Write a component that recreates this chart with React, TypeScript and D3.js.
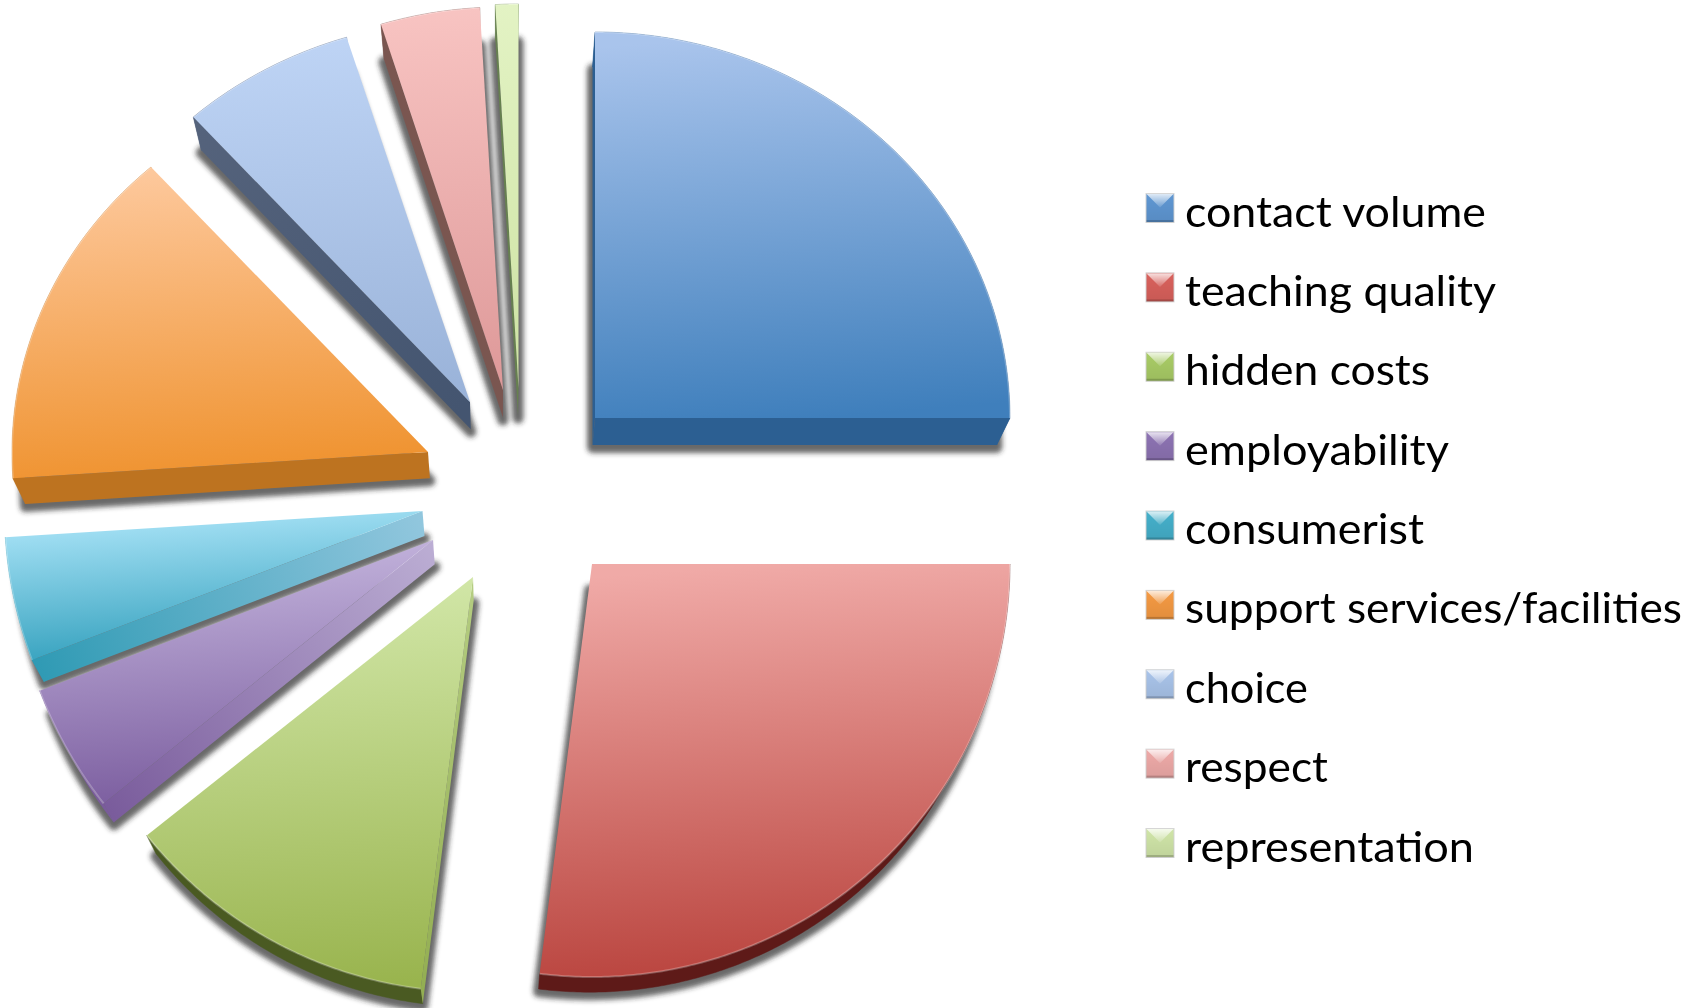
import React from "react";
import * as d3 from "d3";

// ---- data ----
const categories = [
  "contact volume",
  "teaching quality",
  "hidden costs",
  "employability",
  "consumerist",
  "support services/facilities",
  "choice",
  "respect",
  "representation",
];
const shares = [25, 27, 12.3, 4.9, 4.8, 14.4, 6.8, 3.9, 0.9];

// ---- styling ----
const faceTop = ["#a9c4ec", "#f0aaa7", "#d3e8aa", "#c5b6de", "#a7e2f6", "#fdc89c", "#bed4f5", "#f8c4c2", "#e3f3c4"];
const faceBottom = ["#3f7fbc", "#b9433d", "#99b44e", "#7a5c9e", "#2f9ebb", "#ef922e", "#9ab3d9", "#de9999", "#cde2a3"];
const sideApex = ["#2c5f92", "#5e1a18", "#b5cd82", "#bcaed4", "#92c7de", "#bd7320", "#445570", "#7a5650", "#66804f"];
const sideOuter = ["#2c5f92", "#5e1a18", "#93ae52", "#7a5c9c", "#2f9ab4", "#bd7320", "#55637c", "#7a5650", "#66804f"];
const sideArc = ["#2c5f92", "#5e1a18", "#4a5a22", "#7a5c9c", "#2f9ab4", "#bd7320", "#55637c", "#7a5650", "#66804f"];
const swatchBase = ["#5f97d3", "#d9615c", "#a9cc66", "#8d73b3", "#45b0cb", "#f59a43", "#a9c4ea", "#eeaaa8", "#d0e5a8"];

// ---- per-slice layout (each wedge is pulled out and sized by the perspective) ----
const apexX = [595, 592, 473, 433, 422.5, 428, 470, 503, 518.5];
const apexY = [418, 564, 577, 540, 511, 452, 402, 390, 388];
const radX = [415, 418, 417, 421, 418, 416, 415.5, 411, 411];
const radYUp = [386, 418, 417, 417, 418, 382, 382, 383, 384];
const radYDown = [386, 413, 415, 423, 418, 420, 380, 383, 384];

const legendWidths = [301, 311, 245, 264, 239, 497, 123, 143, 289];
const legendX = d3.scaleLinear().domain([0, 1]).range([1146, 1174]);
const legendY = d3.scaleLinear().domain([0, 8]).range([193.5, 828.5]);

const W = 1686;
const H = 1008;
const kx = 0.026, vpx = 500, ky = 0.021, vpy = 1700;

type P = [number, number];
const lower = ([x, y]: P): P => [x + kx * (vpx - x), y + ky * (vpy - y)];
const line = d3.line<P>();
const closed = (pts: P[]) => (line(pts) as string) + "Z";

const arcs = d3.pie<number>().sort(null)(shares);

const slices = arcs.map((a, i) => {
  const steps = Math.max(4, Math.ceil(((a.endAngle - a.startAngle) * 180) / Math.PI) * 2);
  const angle = d3.scaleLinear().domain([0, steps]).range([a.startAngle, a.endAngle]);
  const rim: P[] = d3.range(steps + 1).map((s) => {
    const t = angle(s);
    const c = Math.cos(t);
    return [apexX[i] + radX[i] * Math.sin(t), apexY[i] - (c > 0 ? radYUp[i] : radYDown[i]) * c] as P;
  });
  const apex: P = [apexX[i], apexY[i]];
  const top: P[] = [apex, ...rim];
  const bottom = top.map(lower);
  const centroid = d3.polygonCentroid(top);
  const edges: { a: P; b: P; key: string }[] = [
    { a: apex, b: rim[0], key: "s" },
    { a: apex, b: rim[rim.length - 1], key: "e" },
  ];
  const visible = edges.filter(({ a: p, b: q }) => {
    const nx = q[1] - p[1];
    const ny = -(q[0] - p[0]);
    const mid: P = [(p[0] + q[0]) / 2, (p[1] + q[1]) / 2];
    const low = lower(mid);
    const sign = nx * (mid[0] - centroid[0]) + ny * (mid[1] - centroid[1]) > 0 ? 1 : -1;
    return sign * (nx * (low[0] - mid[0]) + ny * (low[1] - mid[1])) > 0;
  });
  return { i, apex, rim, top, bottom, visible };
});

export default function App() {
  return (
    <svg
      width={W}
      height={H}
      viewBox={`0 0 ${W} ${H}`}
      style={{ position: "fixed", left: 0, top: 0, background: "#fff" }}
    >
      <defs>
        <filter id="soft" x="-20%" y="-20%" width="140%" height="140%">
          <feGaussianBlur stdDeviation="2.8" />
        </filter>
        <linearGradient id="wedge" x1="0" y1="0" x2="0" y2="1">
          <stop offset="0" stopColor="#fff" stopOpacity="0.8" />
          <stop offset="1" stopColor="#fff" stopOpacity="0.1" />
        </linearGradient>
        <linearGradient id="swatchShade" x1="0" y1="0" x2="0" y2="1">
          <stop offset="0" stopColor="#000" stopOpacity="0" />
          <stop offset="1" stopColor="#000" stopOpacity="0.08" />
        </linearGradient>
        {slices.map((s) => {
          const ys = d3.extent(s.top, (p) => p[1]) as [number, number];
          const xs = d3.extent(s.top, (p) => p[0]) as [number, number];
          const mx = (xs[0] + xs[1]) / 2;
          const tilt = (ys[1] - ys[0]) * 0.04;
          return (
            <linearGradient
              key={s.i}
              id={`face${s.i}`}
              gradientUnits="userSpaceOnUse"
              x1={mx - tilt}
              y1={ys[0]}
              x2={mx + tilt}
              y2={ys[1]}
            >
              <stop offset="0" stopColor={faceTop[s.i]} />
              <stop offset="1" stopColor={faceBottom[s.i]} />
            </linearGradient>
          );
        })}
        {slices.flatMap((s) =>
          s.visible.map((e) => (
            <linearGradient
              key={s.i + e.key}
              id={`side${s.i}${e.key}`}
              gradientUnits="userSpaceOnUse"
              x1={e.a[0]}
              y1={e.a[1]}
              x2={e.b[0]}
              y2={e.b[1]}
            >
              <stop offset="0" stopColor={sideApex[s.i]} />
              <stop offset="1" stopColor={sideOuter[s.i]} />
            </linearGradient>
          ))
        )}
      </defs>

      {/* soft shadow cast by the underside of every wedge */}
      <g filter="url(#soft)" transform="translate(0,2.5)">
        {slices.map((s) => (
          <path
            key={s.i}
            d={closed(s.bottom)}
            fill="#2c2c2c"
            stroke="#2c2c2c"
            strokeWidth={11}
            strokeLinejoin="round"
            opacity={0.7}
          />
        ))}
      </g>

      {slices.map((s) => (
        <g key={s.i}>
          <path
            d={closed([...s.rim, ...s.rim.map(lower).reverse()])}
            fill={sideArc[s.i]}
            stroke={sideArc[s.i]}
            strokeWidth={0.5}
          />
          {s.visible.map((e) => (
            <path
              key={e.key}
              d={closed([e.a, e.b, lower(e.b), lower(e.a)])}
              fill={`url(#side${s.i}${e.key})`}
            />
          ))}
          <path d={closed(s.top)} fill={`url(#face${s.i})`} />
          <path d={line(s.rim) as string} fill="none" stroke="#fff" strokeOpacity={0.25} strokeWidth={2} />
        </g>
      ))}

      {categories.map((name, i) => {
        const x0 = legendX(0);
        const x1 = legendX(1);
        const y0 = legendY(i);
        const y1 = y0 + 29;
        return (
          <g key={name}>
            <rect x={x0} y={y0} width={x1 - x0} height={y1 - y0} fill={swatchBase[i]} stroke="#d6d6d6" strokeWidth={1} />
            <rect x={x0} y={y0} width={x1 - x0} height={y1 - y0} fill="url(#swatchShade)" />
            <path
              d={closed([
                [x0 + 0.5, y0 + 0.5],
                [x1 - 0.5, y0 + 0.5],
                [(x0 + x1) / 2, y0 + 14],
              ])}
              fill="url(#wedge)"
            />
            <rect x={x0 + 0.5} y={y1 - 2.5} width={x1 - x0 - 1} height={2} fill="#000" opacity={0.18} />
            <text
              x={1185}
              y={y0 + 33}
              fontFamily="Lato, 'Open Sans', sans-serif"
              fontSize={43}
              fill="#000"
              textLength={legendWidths[i]}
              lengthAdjust="spacingAndGlyphs"
            >
              {name}
            </text>
          </g>
        );
      })}
    </svg>
  );
}
